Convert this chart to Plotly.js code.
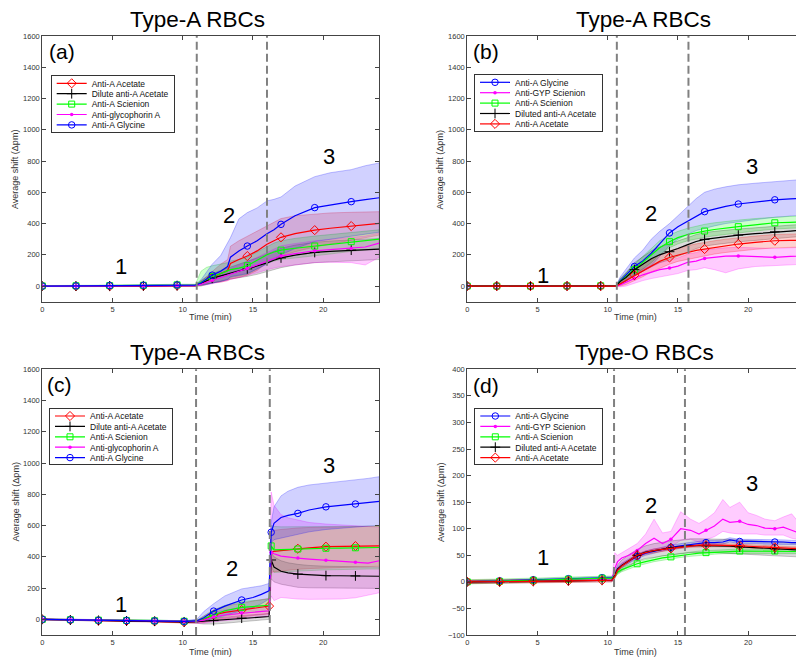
<!DOCTYPE html>
<html>
<head>
<meta charset="utf-8">
<script src="https://cdn.plot.ly/plotly-3.0.1.min.js"></script>
<style>
  html, body { margin: 0; padding: 0; overflow: hidden; background: #fff; }
  #chart { width: 820px; height: 660px; }
</style>
</head>
<body>
<div id="chart"></div>
<script>
// ---------- Panel (a): Type-A RBCs ----------
const tA = [0, 2.4, 4.8, 7.2, 9.6, 10.9, 11.3, 11.7, 12.1, 12.7, 13.2, 13.4, 14.0, 14.6, 15.3, 16.0, 16.5, 17.0, 18.0, 19.4, 20.5, 22.0, 23.0, 24.0];
const mkA = [0, 2.4, 4.8, 7.2, 9.6, 12.1, 14.6, 17.0, 19.4, 22.0];
const injA = [11.0, 16.0];
const labA = [[5.6, 124, '1'], [13.3, 454, '2'], [20.4, 828, '3']];
const aRed    = [0, -1, -1, 0, 2, 3, 15, 35, 55, 80, 100, 145, 170, 192, 225, 268, 290, 312, 335, 358, 370, 384, 392, 401];
const aRedHi  = [3, 2, 2, 3, 5, 6, 30, 60, 90, 140, 170, 255, 290, 318, 350, 385, 410, 432, 450, 462, 468, 472, 474, 476];
const aRedLo  = [-3, -4, -4, -3, -1, 0, 2, 12, 22, 25, 35, 45, 55, 70, 100, 150, 170, 192, 220, 250, 270, 295, 310, 326];
const aBlk    = [0, 0, 1, 2, 3, 3, 18, 35, 50, 65, 78, 84, 97, 110, 128, 148, 165, 180, 198, 215, 222, 230, 233, 237];
const aBlkHi  = [2, 2, 3, 4, 5, 5, 35, 60, 80, 100, 115, 122, 140, 158, 180, 205, 225, 242, 262, 280, 288, 296, 300, 305];
const aBlkLo  = [-2, -2, -1, 0, 1, 1, 5, 12, 20, 30, 42, 46, 55, 62, 75, 90, 105, 118, 135, 150, 155, 163, 167, 170];
const aGrn    = [1, 2, 3, 5, 8, 6, 25, 45, 62, 80, 95, 105, 115, 130, 165, 200, 218, 230, 242, 256, 268, 284, 292, 300];
const aGrnHi  = [3, 4, 6, 8, 12, 12, 95, 120, 130, 140, 150, 160, 170, 185, 220, 255, 275, 290, 305, 320, 330, 345, 352, 360];
const aGrnLo  = [-1, 0, 0, 2, 4, 0, 0, 10, 20, 30, 45, 55, 65, 75, 110, 145, 160, 170, 180, 195, 205, 222, 232, 240];
const aMag    = [0, 0, 1, 2, 3, 3, 12, 25, 38, 55, 70, 78, 95, 112, 135, 160, 178, 192, 208, 226, 233, 241, 250, 275];
const aMagHi  = [2, 2, 3, 4, 6, 6, 25, 45, 65, 85, 105, 115, 135, 155, 185, 215, 240, 258, 272, 290, 298, 310, 320, 340];
const aMagLo  = [-2, -2, -1, 0, 0, 0, 2, 8, 15, 25, 35, 42, 55, 70, 85, 105, 115, 125, 135, 150, 152, 150, 135, 185];
const aBlue   = [0, 1, 3, 5, 7, 6, 20, 45, 70, 95, 125, 185, 225, 256, 290, 335, 360, 395, 450, 502, 520, 540, 553, 565];
const aBlueHi = [1, 3, 5, 8, 10, 8, 40, 90, 140, 195, 280, 310, 430, 470, 500, 545, 555, 570, 640, 700, 725, 745, 770, 788];
const aBlueLo = [-1, -1, 1, 2, 4, 4, 5, 10, 15, 30, 40, 60, 70, 80, 110, 140, 170, 200, 240, 285, 300, 318, 332, 345];

// ---------- Panel (b): Type-A RBCs ----------
const tB = [0, 2.1, 4.5, 7.1, 9.5, 10.6, 10.9, 11.3, 11.9, 12.5, 13.1, 13.7, 14.4, 15.0, 15.7, 16.3, 16.9, 17.6, 18.4, 19.3, 20.5, 21.9, 23.0, 24.0];
const mkB = [0, 2.1, 4.5, 7.1, 9.5, 11.9, 14.4, 16.9, 19.3, 21.9];
const injB = [10.65, 15.75];
const labB = [[5.4, 70, '1'], [13.1, 465, '2'], [20.3, 764, '3']];
const bBlue   = [0, 0, 0, 1, 2, 2, 35, 70, 125, 160, 210, 270, 340, 380, 415, 450, 476, 492, 510, 525, 538, 552, 558, 563];
const bBlueHi = [2, 2, 2, 3, 4, 4, 60, 110, 180, 230, 300, 350, 400, 450, 510, 560, 600, 620, 635, 648, 658, 668, 676, 683];
const bBlueLo = [-2, -2, -2, -1, 0, 0, 10, 30, 70, 95, 130, 190, 260, 300, 330, 355, 370, 385, 400, 412, 425, 440, 448, 455];
const bMag    = [0, 0, 0, 0, 1, 0, 8, 22, 48, 72, 88, 105, 115, 128, 152, 160, 177, 186, 192, 193, 188, 184, 190, 192];
const bMagHi  = [2, 2, 2, 2, 3, 2, 20, 45, 80, 110, 130, 150, 165, 180, 205, 215, 232, 240, 245, 248, 244, 240, 245, 248];
const bMagLo  = [-2, -2, -2, -2, -1, -2, -5, 0, 15, 35, 48, 60, 70, 80, 100, 105, 118, 105, 85, 110, 125, 130, 135, 140];
const bGrn    = [0, 0, 0, 1, 2, 2, 30, 60, 105, 150, 195, 245, 284, 310, 330, 343, 352, 362, 372, 380, 392, 405, 408, 411];
const bGrnHi  = [2, 2, 2, 3, 4, 4, 45, 85, 140, 190, 240, 290, 325, 350, 370, 385, 395, 405, 415, 422, 432, 442, 446, 450];
const bGrnLo  = [-2, -2, -2, -1, 0, 0, 15, 35, 70, 110, 150, 200, 245, 270, 290, 303, 312, 322, 332, 340, 352, 365, 370, 372];
const bBlk    = [0, 0, 0, 0, 1, 1, 30, 55, 105, 140, 175, 200, 220, 240, 265, 285, 299, 308, 318, 326, 335, 347, 352, 358];
const bBlkHi  = [2, 2, 2, 2, 3, 3, 50, 85, 150, 190, 225, 250, 270, 290, 310, 330, 342, 350, 358, 365, 373, 385, 390, 395];
const bBlkLo  = [-2, -2, -2, -2, -1, -1, 10, 30, 65, 95, 125, 150, 170, 190, 215, 240, 255, 265, 275, 283, 292, 305, 312, 318];
const bRed    = [0, 0, 0, 0, 0, 0, 15, 35, 70, 100, 130, 158, 183, 200, 215, 228, 237, 248, 258, 269, 280, 290, 292, 294];
const bRedHi  = [2, 2, 2, 2, 2, 2, 30, 60, 105, 140, 170, 200, 225, 242, 258, 270, 280, 290, 300, 310, 320, 330, 333, 335];
const bRedLo  = [-2, -2, -2, -2, -2, -2, 0, 10, 35, 60, 90, 115, 140, 158, 172, 185, 193, 205, 215, 225, 235, 245, 248, 250];

// ---------- Panel (c): Type-A RBCs ----------
const tC = [0, 2, 4, 6, 8, 10.1, 11.0, 11.5, 12.2, 13.0, 14.2, 15.0, 15.6, 16.15, 16.3, 16.5, 17.0, 17.5, 18.2, 19.0, 20.2, 21.2, 22.3, 23.2, 24.0];
const mkC = [0, 2, 4, 6, 8, 10.1, 12.2, 14.2, 16.3, 18.2, 20.2, 22.3];
const mkCRed = [0, 2, 4, 6, 8, 10.1, 12.2, 14.2, 16.15, 18.2, 20.2, 22.3];
const injC = [10.95, 16.2];
const labC = [[5.6, 92, '1'], [13.5, 326, '2'], [20.4, 987, '3']];
const cRed    = [0, -4, -8, -10, -13, -18, -15, 0, 28, 45, 60, 70, 78, 85, 430, 435, 440, 445, 452, 458, 465, 467, 469, 470, 470];
const cRedHi  = [3, -1, -4, -6, -9, -12, -8, 20, 60, 85, 105, 115, 125, 135, 560, 570, 575, 580, 585, 588, 590, 592, 594, 595, 596];
const cRedLo  = [-3, -7, -12, -14, -17, -24, -22, -20, -5, 5, 15, 25, 30, 35, 300, 305, 310, 315, 320, 325, 330, 333, 336, 338, 340];
const cBlk    = [0, -4, -7, -10, -12, -16, -15, -12, -8, 0, 8, 12, 15, 18, 380, 335, 308, 298, 290, 285, 280, 279, 278, 277, 276];
const cBlkHi  = [3, -1, -4, -6, -8, -11, -5, 0, 5, 15, 25, 30, 33, 38, 430, 400, 375, 362, 352, 345, 340, 338, 336, 335, 334];
const cBlkLo  = [-3, -7, -10, -14, -16, -21, -25, -30, -30, -25, -15, -10, -5, 0, 260, 240, 225, 215, 205, 202, 200, 199, 198, 198, 198];
const cGrn    = [0, -2, -5, -7, -9, -12, -10, 5, 30, 55, 77, 82, 86, 90, 470, 445, 446, 448, 450, 452, 455, 456, 458, 459, 460];
const cGrnHi  = [3, 1, -2, -4, -6, -9, -5, 20, 60, 90, 115, 120, 125, 130, 600, 595, 592, 592, 592, 592, 593, 594, 595, 596, 598];
const cGrnLo  = [-3, -5, -8, -10, -12, -15, -15, -10, 0, 20, 40, 45, 48, 50, 340, 300, 302, 305, 308, 312, 317, 319, 321, 322, 322];
const cMag    = [0, -3, -6, -8, -10, -14, -12, -5, 15, 28, 40, 45, 50, 55, 430, 420, 405, 398, 392, 386, 378, 372, 366, 360, 375];
const cMagHi  = [3, 0, -3, -5, -7, -10, -5, 10, 45, 60, 75, 80, 85, 95, 815, 730, 670, 650, 635, 620, 610, 605, 600, 595, 590];
const cMagLo  = [-3, -6, -9, -11, -13, -18, -25, -25, -15, -5, 5, 10, 15, 20, 150, 120, 140, 135, 130, 128, 128, 130, 138, 155, 170];
const cBlue   = [0, -3, -6, -8, -10, -13, -10, 10, 53, 85, 124, 140, 160, 183, 557, 615, 652, 665, 678, 700, 720, 728, 738, 746, 755];
const cBlueHi = [3, 0, -2, -4, -6, -8, 0, 50, 100, 150, 195, 205, 215, 230, 620, 720, 790, 820, 845, 860, 872, 880, 890, 902, 913];
const cBlueLo = [-3, -6, -10, -12, -14, -18, -18, -10, 10, 25, 55, 75, 100, 130, 490, 510, 520, 530, 545, 560, 575, 585, 590, 597, 600];

// ---------- Panel (d): Type-O RBCs ----------
const tD = [0, 2.3, 4.7, 7.2, 9.6, 10.3, 10.5, 10.7, 11.0, 11.5, 12.1, 12.7, 13.3, 13.9, 14.5, 15.2, 15.9, 16.5, 17.0, 17.6, 18.2, 18.7, 19.4, 20.0, 20.6, 21.2, 21.9, 22.5, 23.1, 23.6, 24.0];
const mkD = [0, 2.3, 4.7, 7.2, 9.6, 12.1, 14.5, 17.0, 19.4, 21.9];
const injD = [10.45, 15.5];
const labD = [[5.4, 46, '1'], [13.1, 144, '2'], [20.3, 186, '3']];
const dBlue   = [0, 2, 4, 6, 8, 8, 14, 24, 31, 39, 48, 54, 58, 62, 65, 68, 70, 72, 74, 74, 75, 79, 76, 76, 76, 75, 75, 75, 74, 74, 74];
const dBlueHi = [2, 4, 6, 8, 10, 10, 18, 28, 35, 43, 52, 58, 62, 66, 69, 72, 74, 76, 78, 78, 79, 83, 80, 80, 80, 79, 79, 79, 78, 78, 78];
const dBlueLo = [-2, 0, 2, 4, 6, 6, 10, 20, 27, 35, 44, 50, 54, 58, 61, 64, 66, 68, 70, 70, 71, 75, 72, 72, 72, 71, 71, 71, 70, 70, 70];
const dMag    = [0, 1, 2, 3, 4, 3, 25, 38, 45, 50, 59, 72, 82, 72, 80, 100, 97, 90, 97, 105, 118, 112, 114, 108, 106, 101, 100, 103, 97, 92, 90];
const dMagHi  = [2, 3, 4, 5, 6, 5, 55, 50, 55, 62, 72, 90, 118, 92, 95, 132, 118, 110, 118, 130, 155, 140, 150, 130, 125, 118, 115, 122, 128, 112, 105];
const dMagLo  = [-2, -1, 0, 1, 2, 1, 10, 25, 35, 40, 48, 58, 62, 58, 66, 78, 80, 75, 80, 85, 95, 92, 90, 90, 90, 88, 88, 88, 82, 80, 80];
const dGrn    = [0, 1, 3, 5, 7, 7, 12, 18, 23, 28, 34, 38, 42, 45, 47, 50, 52, 54, 55, 56, 57, 57, 58, 58, 58, 58, 58, 58, 57, 57, 57];
const dGrnHi  = [4, 5, 7, 9, 11, 11, 16, 22, 27, 32, 38, 42, 46, 49, 51, 54, 56, 58, 59, 60, 61, 61, 62, 62, 62, 62, 62, 62, 61, 61, 61];
const dGrnLo  = [-4, -3, -1, 1, 3, 3, 8, 14, 19, 24, 30, 34, 38, 41, 43, 46, 48, 50, 51, 52, 53, 53, 54, 54, 54, 54, 54, 54, 53, 53, 53];
const dBlk    = [0, 0, 1, 2, 3, 3, 12, 24, 31, 40, 50, 56, 59, 62, 64, 66, 68, 68, 68, 68, 67, 67, 66, 65, 64, 63, 62, 61, 61, 60, 60];
const dBlkHi  = [3, 3, 4, 5, 6, 6, 18, 32, 41, 51, 61, 68, 72, 75, 77, 79, 81, 81, 81, 81, 80, 80, 79, 78, 77, 76, 75, 74, 74, 73, 73];
const dBlkLo  = [-3, -3, -2, -1, 0, 0, 6, 16, 21, 29, 39, 44, 46, 49, 51, 53, 55, 55, 55, 55, 54, 54, 53, 52, 51, 50, 49, 48, 48, 47, 47];
const dRed    = [0, 0, 1, 2, 3, 3, 10, 22, 30, 39, 50, 55, 59, 61, 63, 66, 68, 69, 69, 69, 69, 68, 68, 67, 66, 65, 65, 64, 63, 63, 63];
const dRedHi  = [3, 3, 4, 5, 6, 6, 13, 25, 33, 42, 53, 58, 62, 64, 66, 69, 71, 72, 72, 72, 72, 71, 71, 70, 69, 68, 68, 67, 66, 66, 66];
const dRedLo  = [-3, -3, -2, -1, 0, 0, 7, 19, 27, 36, 47, 52, 56, 58, 60, 63, 65, 66, 66, 66, 66, 65, 65, 64, 63, 62, 62, 61, 60, 60, 60];

// ---------- Styling ----------
const STYLE = {
  red:  { color: '#ff0000', fill: 'rgba(255,0,0,0.18)',   edge: 'rgba(255,0,0,0.35)',   symbol: 'diamond-open',    size: 7 },
  blk:  { color: '#000000', fill: 'rgba(0,0,0,0.14)',     edge: 'rgba(0,0,0,0.30)',     symbol: 'cross-thin-open', size: 7 },
  grn:  { color: '#00ff00', fill: 'rgba(0,255,0,0.20)',   edge: 'rgba(0,200,0,0.35)',   symbol: 'square-open',     size: 6 },
  mag:  { color: '#ff00ff', fill: 'rgba(255,0,255,0.20)', edge: 'rgba(255,0,255,0.35)', symbol: 'circle',          size: 3.5 },
  blue: { color: '#0000ff', fill: 'rgba(0,0,255,0.18)',   edge: 'rgba(0,0,255,0.35)',   symbol: 'circle-open',     size: 6.5 }
};

const W = 820, H = 660;
const px = v => v / W;
const py = v => 1 - v / H;

const panels = [
  { t: tA, mk: mkA, inj: injA, lab: labA, x: 'x', y: 'y', legend: 'legend', series: [
    { name: 'Anti-A Acetate',        key: 'red',  y: aRed,  hi: aRedHi,  lo: aRedLo },
    { name: 'Dilute anti-A Acetate', key: 'blk',  y: aBlk,  hi: aBlkHi,  lo: aBlkLo },
    { name: 'Anti-A Scienion',       key: 'grn',  y: aGrn,  hi: aGrnHi,  lo: aGrnLo },
    { name: 'Anti-glycophorin A',    key: 'mag',  y: aMag,  hi: aMagHi,  lo: aMagLo },
    { name: 'Anti-A Glycine',        key: 'blue', y: aBlue, hi: aBlueHi, lo: aBlueLo } ] },
  { t: tB, mk: mkB, inj: injB, lab: labB, x: 'x2', y: 'y2', legend: 'legend2', series: [
    { name: 'Anti-A Glycine',          key: 'blue', y: bBlue, hi: bBlueHi, lo: bBlueLo },
    { name: 'Anti-GYP Scienion',       key: 'mag',  y: bMag,  hi: bMagHi,  lo: bMagLo },
    { name: 'Anti-A Scienion',         key: 'grn',  y: bGrn,  hi: bGrnHi,  lo: bGrnLo },
    { name: 'Diluted anti-A Acetate',  key: 'blk',  y: bBlk,  hi: bBlkHi,  lo: bBlkLo },
    { name: 'Anti-A Acetate',          key: 'red',  y: bRed,  hi: bRedHi,  lo: bRedLo } ] },
  { t: tC, mk: mkC, inj: injC, lab: labC, x: 'x3', y: 'y3', legend: 'legend3', series: [
    { name: 'Anti-A Acetate',        key: 'red',  y: cRed,  hi: cRedHi,  lo: cRedLo, mk: mkCRed },
    { name: 'Dilute anti-A Acetate', key: 'blk',  y: cBlk,  hi: cBlkHi,  lo: cBlkLo },
    { name: 'Anti-A Scienion',       key: 'grn',  y: cGrn,  hi: cGrnHi,  lo: cGrnLo },
    { name: 'Anti-glycophorin A',    key: 'mag',  y: cMag,  hi: cMagHi,  lo: cMagLo },
    { name: 'Anti-A Glycine',        key: 'blue', y: cBlue, hi: cBlueHi, lo: cBlueLo } ] },
  { t: tD, mk: mkD, inj: injD, lab: labD, x: 'x4', y: 'y4', legend: 'legend4', series: [
    { name: 'Anti-A Glycine',          key: 'blue', y: dBlue, hi: dBlueHi, lo: dBlueLo },
    { name: 'Anti-GYP Scienion',       key: 'mag',  y: dMag,  hi: dMagHi,  lo: dMagLo },
    { name: 'Anti-A Scienion',         key: 'grn',  y: dGrn,  hi: dGrnHi,  lo: dGrnLo },
    { name: 'Diluted anti-A Acetate',  key: 'blk',  y: dBlk,  hi: dBlkHi,  lo: dBlkLo },
    { name: 'Anti-A Acetate',          key: 'red',  y: dRed,  hi: dRedHi,  lo: dRedLo } ] }
];

// ---------- Traces ----------
const bands = [], lines = [];
panels.forEach(p => {
  p.series.forEach(s => {
    const st = STYLE[s.key];
    // shaded spread: upper edge forward, lower edge back
    bands.push({
      type: 'scatter', mode: 'lines', xaxis: p.x, yaxis: p.y,
      x: p.t.concat(p.t.slice().reverse()),
      y: s.hi.concat(s.lo.slice().reverse()),
      fill: 'toself', fillcolor: st.fill,
      line: { color: st.edge, width: 0.7 },
      hoverinfo: 'skip', showlegend: false
    });
    // mean curve with sparse markers
    const marks = s.mk || p.mk;
    const mc = p.t.map(v => marks.some(m => Math.abs(m - v) < 1e-6) ? st.color : 'rgba(0,0,0,0)');
    lines.push({
      type: 'scatter', mode: 'lines+markers', xaxis: p.x, yaxis: p.y,
      name: s.name, legend: p.legend,
      x: p.t, y: s.y,
      line: { color: st.color, width: 1.2 },
      marker: { symbol: st.symbol, size: st.size, color: mc,
                line: { width: st.symbol === 'circle' ? 0 : 1, color: mc } },
      hoverinfo: 'skip'
    });
  });
});

// ---------- Axes ----------
const AX = {
  showline: true, linecolor: '#444', linewidth: 1, mirror: 'ticks',
  ticks: 'inside', ticklen: 4, tickwidth: 1, tickcolor: '#444',
  showgrid: false, zeroline: false,
  tickfont: { size: 7.5, color: '#333' }
};
const xDomL = [px(42.3), px(379.3)], xDomR = [px(467.3), px(804.3)];
const yDomT = [py(301.7), py(36)],   yDomB = [py(635), py(369.3)];
const ticksA = [0, 200, 400, 600, 800, 1000, 1200, 1400, 1600];
const ticksD = [-100, -50, 0, 50, 100, 150, 200, 250, 300, 350, 400];

function xAxis(dom, anchor) {
  return Object.assign({}, AX, { domain: dom, anchor: anchor, range: [0, 24], tickvals: [0, 5, 10, 15, 20] });
}
function yAxis(dom, anchor, range, tv) {
  return Object.assign({}, AX, { domain: dom, anchor: anchor, range: range, tickvals: tv });
}

function legendAt(x, y) {
  return { x: px(x), y: py(y), xanchor: 'left', yanchor: 'top', bgcolor: '#ffffff',
           bordercolor: '#333', borderwidth: 1, font: { size: 8.5, color: '#111' },
           tracegroupgap: 0 };
}

// ---------- Annotations & shapes ----------
function note(text, x, y, size, extra) {
  return Object.assign({ text: text, x: px(x), y: py(y), xref: 'paper', yref: 'paper',
    xanchor: 'center', yanchor: 'middle', showarrow: false, font: { size: size, color: '#000' } }, extra || {});
}
const axisFont = { size: 9, color: '#333' };
const annotations = [
  note('Type-A RBCs', 197.5, 20, 22.5),
  note('Type-A RBCs', 643.8, 20, 22.5),
  note('Type-A RBCs', 197.5, 352, 22.5),
  note('Type-O RBCs', 644.7, 352, 22.5),
  note('(a)', 61.7, 52, 21),
  note('(b)', 486.3, 52, 21),
  note('(c)', 59.7, 384, 21),
  note('(d)', 486.3, 385, 21),
  // axis titles
  note('Time (min)', 210.8, 317, 9, { font: axisFont }),
  note('Time (min)', 635.8, 317, 9, { font: axisFont }),
  note('Time (min)', 210.8, 651.7, 9, { font: axisFont }),
  note('Time (min)', 635.8, 651.7, 9, { font: axisFont }),
  note('Average shift (Δpm)', 15, 170, 9, { font: axisFont, textangle: -90 }),
  note('Average shift (Δpm)', 439.5, 170, 9, { font: axisFont, textangle: -90 }),
  note('Average shift (Δpm)', 15, 502.5, 9, { font: axisFont, textangle: -90 }),
  note('Average shift (Δpm)', 440.5, 502.5, 9, { font: axisFont, textangle: -90 })
];
const shapes = [];
panels.forEach(p => {
  p.lab.forEach(l => annotations.push({ text: l[2], x: l[0], y: l[1], xref: p.x, yref: p.y,
    xanchor: 'center', yanchor: 'middle', showarrow: false, font: { size: 22, color: '#000' } }));
  p.inj.forEach(v => shapes.push({ type: 'line', xref: p.x, yref: p.y + ' domain', x0: v, x1: v, y0: 0, y1: 1,
    line: { color: '#808080', width: 2, dash: '8px,4px' } }));
});

const layout = {
  width: W, height: H,
  margin: { l: 0, r: 0, t: 0, b: 0 },
  paper_bgcolor: '#fff', plot_bgcolor: '#fff',
  font: { family: 'Liberation Sans, Arial, Helvetica, sans-serif', color: '#000' },
  hovermode: false,
  xaxis:  xAxis(xDomL, 'y'),
  yaxis:  yAxis(yDomT, 'x',  [-100, 1600], ticksA),
  xaxis2: xAxis(xDomR, 'y2'),
  yaxis2: yAxis(yDomT, 'x2', [-100, 1600], ticksA),
  xaxis3: xAxis(xDomL, 'y3'),
  yaxis3: yAxis(yDomB, 'x3', [-100, 1600], ticksA),
  xaxis4: xAxis(xDomR, 'y4'),
  yaxis4: yAxis(yDomB, 'x4', [-100, 400], ticksD),
  legend:  legendAt(50.7, 75),
  legend2: legendAt(474, 74),
  legend3: legendAt(49, 407.7),
  legend4: legendAt(474.3, 407.7),
  annotations: annotations,
  shapes: shapes
};

// Compact legend rows (Plotly enforces a tall minimum row height)
function tightenLegends(gd) {
  const ROW = 10.4, TOP = 8.3, BOTTOM = 7.7;
  ['legend', 'legend2', 'legend3', 'legend4'].forEach(id => {
    const g = gd.querySelector('g.infolayer g.' + id);
    if (!g) return;
    const items = g.querySelectorAll('g.traces');
    items.forEach((it, i) => {
      const m = /translate\(\s*([-\d.e]+)[\s,]+([-\d.e]+)\s*\)/.exec(it.getAttribute('transform') || '');
      const x = m ? parseFloat(m[1]) : 0;
      it.setAttribute('transform', 'translate(' + x + ',' + (TOP + i * ROW) + ')');
    });
    const bg = g.querySelector('rect.bg');
    if (bg && items.length) bg.setAttribute('height', TOP + (items.length - 1) * ROW + BOTTOM - 1);
  });
}

const gd = document.getElementById('chart');
Plotly.newPlot(gd, bands.concat(lines), layout, { staticPlot: true, displayModeBar: false })
  .then(() => { try { tightenLegends(gd); } catch (e) { console.error(e); } });
</script>
</body>
</html>
